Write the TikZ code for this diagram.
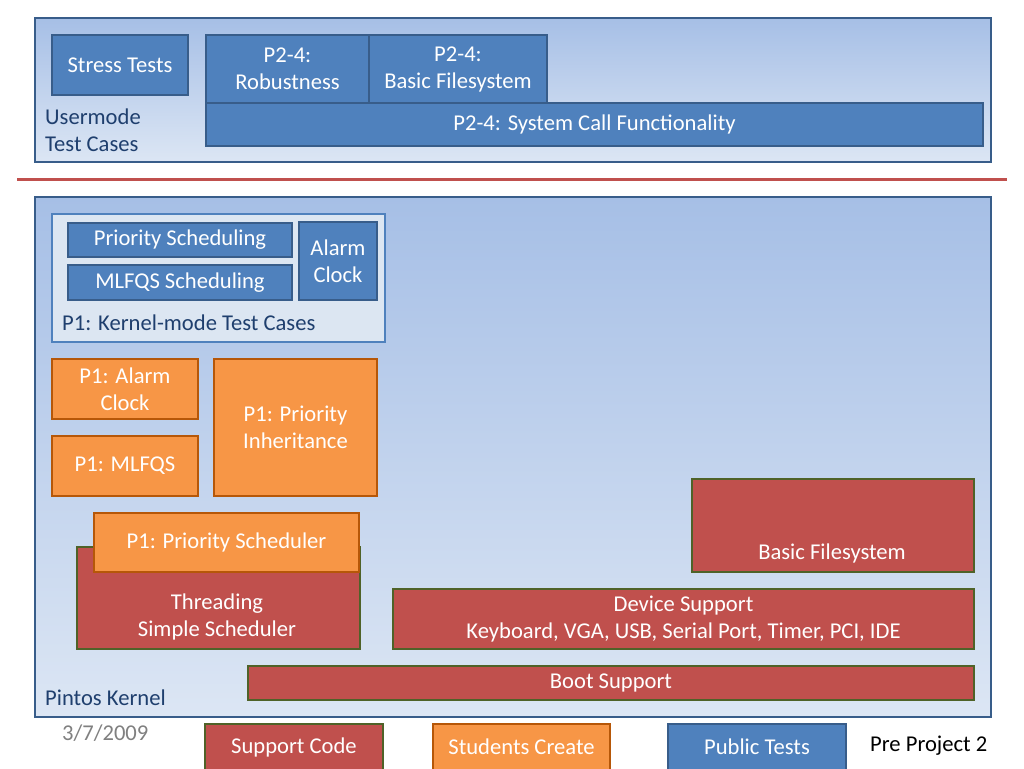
\documentclass[tikz,border=0pt]{standalone}
\usepackage{fontspec}
\setmainfont{Carlito}
\usetikzlibrary{positioning}
\definecolor{panelB}{HTML}{385D8A}
\definecolor{panelTop}{HTML}{A6BFE6}
\definecolor{panelBot}{HTML}{DCE6F4}
\definecolor{blueF}{HTML}{4F81BD}
\definecolor{blueD}{HTML}{385D8A}
\definecolor{redF}{HTML}{C0504D}
\definecolor{greenD}{HTML}{4F6228}
\definecolor{orangeF}{HTML}{F79646}
\definecolor{orangeD}{HTML}{B65708}
\definecolor{labelC}{HTML}{1F3F6E}
\definecolor{lightbox}{HTML}{DCE6F2}
\tikzset{
  every node/.style={font=\fontsize{22.6}{27}\selectfont},
  panel/.style={draw=panelB, line width=2pt, top color=panelTop, bottom color=panelBot, anchor=north west, inner sep=0pt},
  bbox/.style={draw=blueD, fill=blueF, line width=2pt, text=white, align=center, anchor=north west, inner sep=0pt},
  rbox/.style={draw=greenD, fill=redF, line width=2pt, text=white, align=center, anchor=north west, inner sep=0pt},
  obox/.style={draw=orangeD, fill=orangeF, line width=2pt, text=white, align=center, anchor=north west, inner sep=0pt},
  kbox/.style={draw=blueF, fill=lightbox, line width=2pt, anchor=north west, inner sep=0pt},
  lbl/.style={text=labelC, align=left, anchor=west, inner sep=0pt},
}
\begin{document}
\begin{tikzpicture}[x=1pt,y=-1pt]
\useasboundingbox (0,0) rectangle (1024,768);
\fill[white] (0,0) rectangle (1024,768);
\begin{scope}
\clip (0,0) rectangle (1024,768);
% top panel
\node[panel, minimum width=956pt, minimum height=144pt] (top) at (34,17) {};
\node[bbox, minimum width=136pt, minimum height=60pt] (stress) at (51,34) {Stress Tests};
\node[bbox, minimum width=163pt, minimum height=68pt] (rob) at (205,34) {P2-4:\\Robustness};
\node[bbox, minimum width=178pt, minimum height=68pt] (bfst) at (368,34) {P2-4:\\Basic Filesystem};
\node[bbox, minimum width=777pt, minimum height=43pt] (sys) at (205,102) {P2-4: System Call Functionality};
\node[lbl] (um) at (45,130) {Usermode\\Test Cases};
% separator
\draw[redF, line width=3pt] (17,179) coordinate (sepL) -- (1007,179) coordinate (sepR);
% bottom panel
\node[panel, minimum width=956pt, minimum height=520pt] (bot) at (34,196) {};
\node[kbox, minimum width=333pt, minimum height=128pt] (kbox) at (51,213) {};
\node[bbox, minimum width=224pt, minimum height=34pt] (prio) at (67,222) {Priority Scheduling};
\node[bbox, minimum width=224pt, minimum height=35pt] (mlfqs) at (67,264) {MLFQS Scheduling};
\node[bbox, minimum width=78pt, minimum height=78pt] (alarm) at (298,221) {Alarm\\Clock};
\node[lbl] (kl) at (62,323) {P1: Kernel-mode Test Cases};
\node[obox, minimum width=146pt, minimum height=60pt] (palarm) at (51,358) {P1: Alarm\\Clock};
\node[obox, minimum width=146pt, minimum height=60pt] (pmlfqs) at (51,435) {P1: MLFQS};
\node[obox, minimum width=163pt, minimum height=137pt] (pinh) at (213,358) {P1: Priority\\Inheritance};
\node[rbox, minimum width=283pt, minimum height=102pt] (thr) at (76,546) {};
\node[text=white, align=center, inner sep=0pt] (thrt) at (217,617) {Threading\\Simple Scheduler};
\node[obox, minimum width=265pt, minimum height=59pt] (psched) at (93,512) {P1: Priority Scheduler};
\node[rbox, minimum width=282pt, minimum height=93pt] (bfs) at (691,478) {};
\node[text=white, inner sep=0pt] (bfst2) at (832,553) {Basic Filesystem};
\node[rbox, minimum width=581pt, minimum height=60pt] (dev) at (392,588) {Device Support\\Keyboard, VGA, USB, Serial Port, Timer, PCI, IDE};
\node[rbox, minimum width=726pt, minimum height=34pt] (boot) at (247,665) {Boot Support};
\node[lbl] (pk) at (45,698) {Pintos Kernel};
% footer
\node[text=black!50, anchor=west, inner sep=0pt] (date) at (62,733) {3/7/2009};
\node[rbox, minimum width=178pt, minimum height=46pt] (lsup) at (204,723) {Support Code};
\node[obox, minimum width=177pt, minimum height=46pt] (lstu) at (432,723) {Students Create};
\node[bbox, minimum width=178pt, minimum height=46pt] (lpub) at (667,723) {Public Tests};
\node[anchor=west, inner sep=0pt] (pp) at (870,746) {Pre Project 2};
\end{scope}
\end{tikzpicture}
\end{document}
